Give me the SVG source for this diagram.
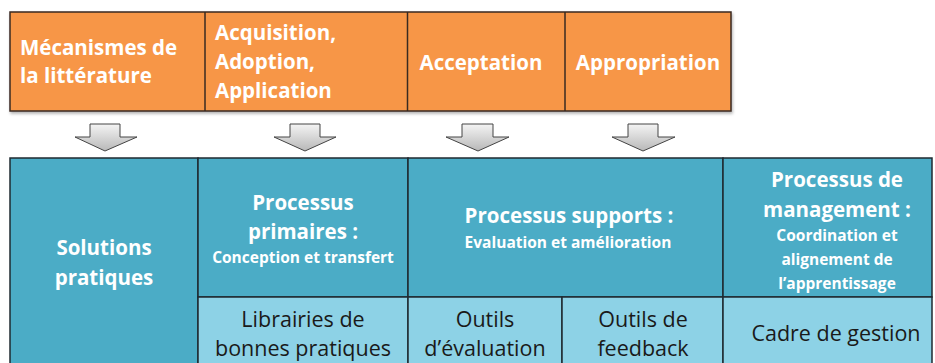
<svg xmlns="http://www.w3.org/2000/svg" width="935" height="363" viewBox="0 0 935 363">
<defs>
<linearGradient id="ag" x1="0" y1="0" x2="0" y2="1">
<stop offset="0" stop-color="#f4f4f4"/>
<stop offset="1" stop-color="#b8b8b8"/>
</linearGradient>
<filter id="sh" x="-5%" y="-5%" width="110%" height="120%">
<feDropShadow dx="1" dy="2" stdDeviation="1.5" flood-color="#000" flood-opacity="0.3"/>
</filter>
</defs>
<style>
.or{fill:#f79646;stroke:#3a2a20;stroke-width:1.5}
.bh{fill:#4bacc6;stroke:#1f2a30;stroke-width:1.5}
.bl{fill:#8dd2e6;stroke:#1f2a30;stroke-width:1.5}
.t{font-family:"Open Sans","Liberation Sans",sans-serif;font-weight:bold;fill:#ffffff}
.big{font-size:20.5px}
.sm{font-size:15.5px}
.d{font-family:"Open Sans","Liberation Sans",sans-serif;font-size:21.5px;fill:#1a1a1a}
.arr{fill:url(#ag);stroke:#444;stroke-width:1}
</style>
<g id="top-row" filter="url(#sh)">
<rect class="or" x="10" y="12" width="721" height="99"/>
</g>
<g id="n-mecanismes">
<text class="t big" x="20" y="55">Mécanismes de</text>
<text class="t big" x="20" y="83">la littérature</text>
</g>
<g id="n-acquisition">
<line x1="205" y1="12" x2="205" y2="111" stroke="#3a2a20" stroke-width="1.5"/>
<text class="t big" x="215" y="40">Acquisition,</text>
<text class="t big" x="215" y="69">Adoption,</text>
<text class="t big" x="215" y="98">Application</text>
</g>
<g id="n-acceptation">
<line x1="407.5" y1="12" x2="407.5" y2="111" stroke="#3a2a20" stroke-width="1.5"/>
<text class="t big" x="481" y="70" text-anchor="middle">Acceptation</text>
</g>
<g id="n-appropriation">
<line x1="565" y1="12" x2="565" y2="111" stroke="#3a2a20" stroke-width="1.5"/>
<text class="t big" x="648" y="70" text-anchor="middle">Appropriation</text>
</g>
<g id="connectors">
<path class="arr" d="M90,124 H120 V137 H137 L105,151 L75,137 H90 Z"/>
<path class="arr" d="M290,124 H320 V137 H336 L305,151 L274,137 H290 Z"/>
<path class="arr" d="M462,124 H493 V137 H509 L478,151 L446,137 H462 Z"/>
<path class="arr" d="M628,124 H658 V137 H675 L643,151 L612,137 H628 Z"/>
</g>
<g id="n-solutions">
<rect class="bh" x="10" y="158" width="188" height="210"/>
<text class="t big" x="104" y="255" text-anchor="middle">Solutions</text>
<text class="t big" x="104" y="285" text-anchor="middle">pratiques</text>
</g>
<g id="n-primaires">
<rect class="bh" x="198" y="158" width="210" height="139"/>
<text class="t big" x="303" y="210" text-anchor="middle">Processus</text>
<text class="t big" x="303" y="239" text-anchor="middle">primaires :</text>
<text class="t sm" x="303" y="263" text-anchor="middle">Conception et transfert</text>
</g>
<g id="n-supports">
<rect class="bh" x="408" y="158" width="315" height="139"/>
<text class="t big" x="569" y="223" text-anchor="middle">Processus supports :</text>
<text class="t sm" x="568" y="248" text-anchor="middle">Evaluation et amélioration</text>
</g>
<g id="n-management">
<rect class="bh" x="723" y="158" width="209" height="139"/>
<text class="t big" x="837" y="187" text-anchor="middle">Processus de</text>
<text class="t big" x="837" y="217" text-anchor="middle">management :</text>
<text class="t sm" x="837" y="241" text-anchor="middle">Coordination et</text>
<text class="t sm" x="837" y="265" text-anchor="middle">alignement de</text>
<text class="t sm" x="837" y="289" text-anchor="middle">l’apprentissage</text>
</g>
<g id="n-librairies">
<rect class="bl" x="198" y="297" width="210" height="71"/>
<text class="d" x="303" y="327" text-anchor="middle">Librairies de</text>
<text class="d" x="303" y="356" text-anchor="middle">bonnes pratiques</text>
</g>
<g id="n-outils-eval">
<rect class="bl" x="408" y="297" width="154" height="71"/>
<text class="d" x="485" y="327" text-anchor="middle">Outils</text>
<text class="d" x="485" y="356" text-anchor="middle">d’évaluation</text>
</g>
<g id="n-outils-feedback">
<rect class="bl" x="562" y="297" width="161" height="71"/>
<text class="d" x="643" y="327" text-anchor="middle">Outils de</text>
<text class="d" x="643" y="356" text-anchor="middle">feedback</text>
</g>
<g id="n-cadre">
<rect class="bl" x="723" y="297" width="209" height="71"/>
<text class="d" x="836" y="341" text-anchor="middle">Cadre de gestion</text>
</g>
</svg>
